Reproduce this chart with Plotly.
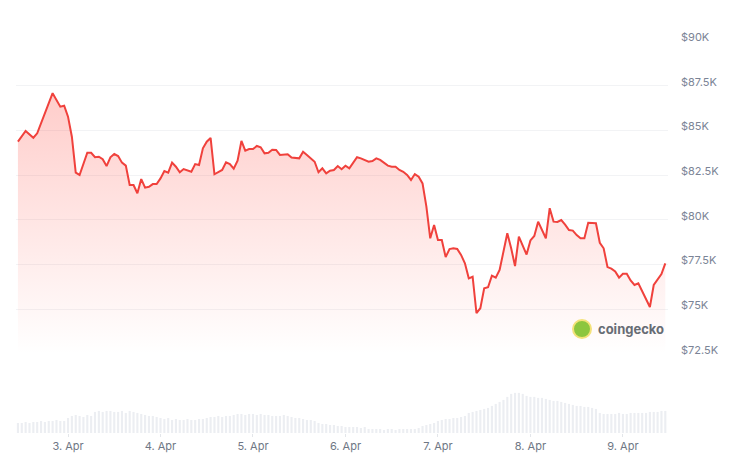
import plotly.graph_objects as go
import pandas as pd

# ---- data ----
start = pd.Timestamp("2025-04-03 00:00")
# hours relative to 3 Apr 00:00 and BTC price (USD)
price_hours = [-13, -11, -9, -8, -4, -2, -1, 0, 1, 2, 3, 5, 6, 7, 8, 9, 10, 11, 12, 13,
               14, 15, 16, 17, 18, 19, 20, 21, 22, 23, 24, 25, 26, 27, 28, 29, 30, 32, 33, 34,
               35, 36, 37, 38, 40, 41, 42, 43, 44, 45, 46, 47, 48, 49, 50, 51, 52, 53, 54, 55,
               57, 58, 60, 61, 62, 64, 65, 66, 67, 68, 69, 70, 71, 72, 73, 74, 75, 76, 78, 79,
               80, 81, 83, 84, 85, 86, 87, 88, 89, 90, 91, 92, 93, 94, 95, 96, 97, 98, 99, 100,
               101, 102, 103, 104, 105, 106, 107, 108, 109, 110, 111, 112, 113, 114, 115, 116, 117, 118, 119, 120,
               121, 122, 123, 124, 125, 126, 127, 128, 129, 130, 131, 132, 133, 134, 135, 137, 138, 139, 140, 141,
               142, 143, 144, 145, 146, 147, 148, 149, 150, 151, 152, 153, 154, 155]
prices = [84370, 84970, 84590, 84840, 87080, 86330, 86380, 85770, 84650, 82640, 82510, 83750, 83750, 83500, 83530, 83390, 83010, 83500, 83680, 83570,
          83200, 83030, 81950, 81950, 81490, 82280, 81800, 81850, 82000, 82000, 82320, 82730, 82640, 83200, 82970, 82660, 82840, 82690, 83120, 83070,
          84000, 84370, 84580, 82550, 82790, 83220, 83120, 82860, 83310, 84410, 83870, 83960, 83960, 84130, 84060, 83720, 83750, 83920, 83910, 83630,
          83670, 83480, 83440, 83810, 83630, 83250, 82660, 82880, 82600, 82750, 82790, 83010, 82830, 83030, 82880, 83160, 83500, 83440, 83250, 83290,
          83440, 83350, 83030, 82970, 82970, 82790, 82690, 82510, 82230, 82560, 82410, 82040, 80740, 78970, 79710, 78870, 78870, 77920, 78370, 78410,
          78370, 78040, 77570, 76730, 76820, 74780, 75060, 76170, 76230, 76880, 76770, 77200, 78320, 79250, 78410, 77420, 79060, 78590, 78060, 78850,
          79100, 79900, 79430, 78970, 80650, 79900, 79880, 79990, 79730, 79430, 79400, 79150, 78970, 78970, 79840, 79810, 78720, 78410, 77360, 77270,
          77120, 76770, 76990, 76990, 76610, 76360, 76450, 76020, 75610, 75130, 76360, 76650, 76970, 77570]

# hourly trading volume (billion USD), 2 Apr 11:00 .. 9 Apr 11:00
volume_start_hour = -13
volumes = [1.0, 1.0, 1.1, 1.0, 1.1,
           1.1, 1.2, 1.1, 1.2, 1.2, 1.3, 1.2, 1.2,
           1.5, 1.7, 1.8, 1.7, 1.6, 1.8, 1.7,
           2.1, 2.2, 2.1, 2.2, 2.2, 2.1,
           2.1, 2.2, 2.0, 2.2, 2.1, 2.0, 1.9,
           1.8, 1.7, 1.7, 1.6,
           1.5, 1.4, 1.5,
           1.3, 1.4, 1.3, 1.3, 1.4, 1.3, 1.3, 1.4, 1.4,
           1.5, 1.6, 1.6, 1.7, 1.6, 1.7, 1.7,
           1.8, 1.9, 1.9, 1.8, 1.9, 1.9, 1.8, 1.9, 1.8,
           1.8, 1.7, 1.7, 1.7, 1.8, 1.7,
           1.6, 1.5, 1.5, 1.4, 1.3, 1.3, 1.2,
           1.0, 0.9, 0.9, 0.8, 0.8, 0.7, 0.7, 0.6, 0.6, 0.6, 0.6, 0.5, 0.6,
           0.4, 0.4, 0.4, 0.4, 0.3, 0.4, 0.4, 0.3, 0.4, 0.4, 0.4, 0.4, 0.4, 0.5,
           0.7, 0.8, 0.9, 1.0,
           1.2, 1.3, 1.4, 1.4, 1.5, 1.5, 1.6, 1.7,
           2.0, 2.1, 2.2, 2.3, 2.4, 2.5, 2.7,
           2.9, 3.1, 3.3, 3.6,
           3.9, 4.0, 4.0, 3.9, 3.7,
           3.6, 3.6, 3.5, 3.5, 3.4,
           3.3, 3.2, 3.2, 3.1, 3.0,
           2.9, 2.8, 2.7, 2.7, 2.6, 2.6, 2.5, 2.4,
           2.0, 1.9, 1.9, 1.9, 1.9, 2.0, 1.9, 1.9, 2.0, 2.0, 2.0, 2.0, 2.0, 2.1, 2.1, 2.1, 2.2, 2.2]

price_ticks = [72500, 75000, 77500, 80000, 82500, 85000, 87500, 90000]
price_tick_labels = ["$72.5K", "$75K", "$77.5K", "$80K", "$82.5K", "$85K", "$87.5K", "$90K"]
day_ticks = ["2025-04-03", "2025-04-04", "2025-04-05", "2025-04-06", "2025-04-07", "2025-04-08", "2025-04-09"]

# ---- build ----
price_times = [start + pd.Timedelta(hours=h) for h in price_hours]
vol_times = [start + pd.Timedelta(hours=volume_start_hour + i) for i in range(len(volumes))]

RED = "#f0413c"
fig = go.Figure()

fig.add_trace(go.Bar(
    x=vol_times, y=volumes, xaxis="x", yaxis="y2",
    marker=dict(color="#eceef2", line=dict(width=0)),
    hoverinfo="skip", showlegend=False,
))

fig.add_trace(go.Scatter(
    x=price_times, y=prices, xaxis="x", yaxis="y",
    mode="lines", line=dict(color=RED, width=2),
    fill="tozeroy",
    fillgradient=dict(type="vertical", start=72500, stop=87000,
                      colorscale=[[0, "rgba(255,70,60,0.0)"], [1, "rgba(255,70,60,0.27)"]]),
    showlegend=False,
))

font_family = "Inter, 'Noto Sans', sans-serif"
fig.update_layout(
    width=732, height=454,
    margin=dict(l=8, r=72, t=33, b=29),
    paper_bgcolor="white", plot_bgcolor="white",
    font=dict(family=font_family, size=11, color="#7b8496"),
    bargap=0.45,
    xaxis=dict(
        anchor="y2",
        range=[start + pd.Timedelta(hours=-13.5), start + pd.Timedelta(hours=155.7)],
        tickvals=[pd.Timestamp(d) for d in day_ticks],
        tickformat="%-d. %b",
        ticks="outside", ticklen=3, tickcolor="#e3e6ea",
        showgrid=False, zeroline=False, showline=False,
        tickfont=dict(size=11, color="#6f7785"),
    ),
    yaxis=dict(
        domain=[0.2015, 1.0],
        range=[72500, 90000],
        side="right",
        tickvals=price_ticks, ticktext=price_tick_labels,
        gridcolor="#f2f3f5", gridwidth=1,
        zeroline=False, showline=False,
        ticklabelstandoff=12,
        ticklabelshift=-4,
        tickfont=dict(size=11, color="#7b8496"),
    ),
    yaxis2=dict(
        domain=[0.0, 0.11],
        range=[0, 4.3],
        showticklabels=False, showgrid=False, zeroline=False,
    ),
)

# coingecko watermark
fig.add_shape(type="circle", xref="paper", yref="paper",
              x0=(573 - 16) / 652, x1=(591 - 16) / 652,
              y0=(433 - 338) / 392, y1=(433 - 320) / 392,
              fillcolor="#8dc63f", line=dict(color="#f4e27a", width=2), layer="above")
fig.add_annotation(text="<b>coingecko</b>", xref="paper", yref="paper",
                   x=(596 - 16) / 652, y=(433 - 329) / 392, xanchor="left", yanchor="middle",
                   showarrow=False, font=dict(size=13, color="#676c74", family=font_family))

fig.write_html("out.html")
